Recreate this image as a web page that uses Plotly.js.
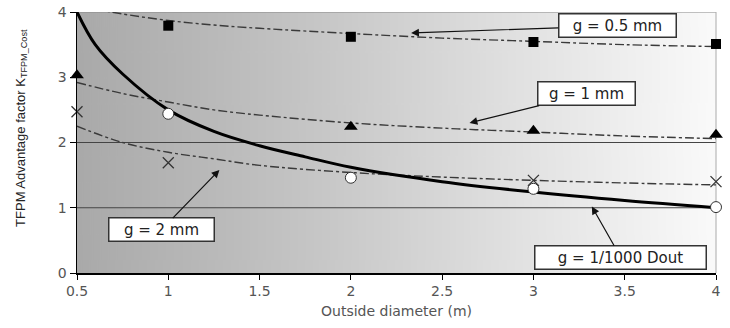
<!DOCTYPE html>
<html>
<head>
<meta charset="utf-8">
<script src="https://cdn.plot.ly/plotly-3.0.1.min.js"></script>
<style>html,body{margin:0;padding:0;background:#fff;}#chart{width:730px;height:328px;}</style>
</head>
<body>
<div id="chart"></div>
<script>
// Marker data
const xSq = [1, 2, 3, 4];
const ySq = [3.79, 3.62, 3.54, 3.51];
const xTri = [0.5, 2, 3, 4];
const yTri = [3.03, 2.24, 2.18, 2.12];
const xX = [0.5, 1, 3, 4];
const yX = [2.47, 1.69, 1.42, 1.40];
const xCirc = [1, 2, 3, 4];
const yCirc = [2.44, 1.46, 1.29, 1.01];

// Trend lines
const xTrend = [0.5, 0.75, 1, 1.25, 1.5, 2, 2.5, 3, 3.5, 4];
const yTrend05 = [4.1, 3.97, 3.87, 3.8, 3.75, 3.67, 3.6, 3.55, 3.5, 3.47];
const yTrend1 = [2.92, 2.75, 2.62, 2.5, 2.42, 2.3, 2.22, 2.16, 2.1, 2.06];
const yTrend2 = [2.25, 2.0, 1.85, 1.75, 1.65, 1.54, 1.47, 1.42, 1.38, 1.35];
const xCurve = [0.5, 0.6, 0.75, 1, 1.25, 1.5, 1.75, 2, 2.5, 3, 3.5, 4];
const yCurve = [4.0, 3.5, 3.05, 2.5, 2.17, 1.95, 1.78, 1.62, 1.4, 1.24, 1.11, 1.0];

const xTicks = [0.5, 1, 1.5, 2, 2.5, 3, 3.5, 4];
const xTickText = ['0.5', '1', '1.5', '2', '2.5', '3', '3.5', '4'];
const yTicks = [0, 1, 2, 3, 4];
const yTickText = ['0', '1', '2', '3', '4'];
const gridY = [1, 2];

// gradient background image
const cv = document.createElement('canvas');
cv.width = 640; cv.height = 10;
const ctx = cv.getContext('2d');
const grd = ctx.createLinearGradient(0, 0, 640, 0);
grd.addColorStop(0, '#a9a9a9');
grd.addColorStop(0.35, '#c4c4c4');
grd.addColorStop(0.7, '#e2e2e2');
grd.addColorStop(1, '#fafafa');
ctx.fillStyle = grd;
ctx.fillRect(0, 0, 640, 10);
const bgURL = cv.toDataURL('image/png');

const trendStyle = {color: '#3a3a3a', width: 1.4, dash: 'dashdot'};
const traces = [
  {x: xTrend, y: yTrend05, mode: 'lines', line: Object.assign({shape: 'spline'}, trendStyle), hoverinfo: 'skip'},
  {x: xTrend, y: yTrend1, mode: 'lines', line: Object.assign({shape: 'spline'}, trendStyle), hoverinfo: 'skip'},
  {x: xTrend, y: yTrend2, mode: 'lines', line: Object.assign({shape: 'spline'}, trendStyle), hoverinfo: 'skip'},
  {x: xSq, y: ySq, mode: 'markers', cliponaxis: false, marker: {symbol: 'square', size: 10, color: '#000'}},
  {x: xTri, y: yTri, mode: 'markers', cliponaxis: false, marker: {symbol: 'triangle-up', size: 12, color: '#000'}},
  {x: xX, y: yX, mode: 'markers', cliponaxis: false, marker: {symbol: 'x-thin', size: 11, line: {color: '#333', width: 1.3}}},
  {x: xCurve, y: yCurve, mode: 'lines', line: {color: '#000', width: 3, shape: 'spline'}},
  {x: xCirc, y: yCirc, mode: 'markers', cliponaxis: false, marker: {symbol: 'circle', size: 11, color: '#fff', line: {color: '#333', width: 1}}}
];

const shapes = gridY.map(v => ({type: 'line', xref: 'paper', x0: 0, x1: 1, yref: 'y', y0: v, y1: v, line: {color: '#444', width: 1.2}, layer: 'below'}));
shapes.push({type: 'line', xref: 'paper', x0: 0, x1: 1, yref: 'y', y0: 4, y1: 4, line: {color: '#888', width: 1.2}, layer: 'below'});
shapes.push({type: 'line', xref: 'paper', x0: 1, x1: 1, yref: 'paper', y0: 0, y1: 1, line: {color: '#aaa', width: 1}, layer: 'below'});

const boxFont = {family: 'DejaVu Sans, sans-serif', size: 15, color: '#222'};
const boxStyle = {showarrow: true, arrowhead: 2, arrowsize: 1.3, arrowwidth: 1.2, arrowcolor: '#111', bgcolor: '#fff', bordercolor: '#333', borderwidth: 1.5, borderpad: 2, font: boxFont};

const annotations = [
  Object.assign({x: 2.33, y: 3.68, ax: 206, ay: -7, text: 'g = 0.5 mm', width: 112}, boxStyle),
  Object.assign({x: 2.65, y: 2.30, ax: 117, ay: -29, text: 'g = 1 mm', width: 92}, boxStyle),
  Object.assign({x: 1.28, y: 1.58, ax: -58, ay: 60, text: 'g = 2 mm', width: 100}, boxStyle),
  Object.assign({x: 3.32, y: 1.02, ax: 29, ay: 51, text: 'g = 1/1000 Dout', width: 166}, boxStyle),
  {xref: 'paper', yref: 'paper', x: -0.088, y: 0.555, xanchor: 'center', yanchor: 'middle', textangle: -90, showarrow: false,
   text: 'TFPM Advantage factor K<sub>TFPM_Cost</sub>', font: {family: 'Liberation Sans, Arial, sans-serif', size: 13, color: '#222'}}
];

const layout = {
  width: 730, height: 328,
  margin: {l: 77, r: 14, t: 12, b: 55},
  paper_bgcolor: '#fff',
  plot_bgcolor: 'rgba(0,0,0,0)',
  showlegend: false,
  images: [{source: bgURL, xref: 'paper', yref: 'paper', x: 0, y: 1, sizex: 1, sizey: 1, sizing: 'stretch', layer: 'below', xanchor: 'left', yanchor: 'top'}],
  xaxis: {
    range: [0.5, 4], tickvals: xTicks, ticktext: xTickText, showgrid: false, zeroline: false,
    showline: true, linecolor: '#000', linewidth: 1.5, ticks: 'outside', ticklen: 5, tickcolor: '#000',
    tickfont: {family: 'DejaVu Sans, sans-serif', size: 14, color: '#555'},
    title: {text: 'Outside diameter (m)', font: {family: 'DejaVu Sans, sans-serif', size: 14, color: '#555'}, standoff: 8}
  },
  yaxis: {
    range: [0, 4], tickvals: yTicks, ticktext: yTickText, showgrid: false, zeroline: false,
    showline: true, linecolor: '#000', linewidth: 1.5, ticks: 'outside', ticklen: 6, tickcolor: '#000',
    tickfont: {family: 'DejaVu Sans, sans-serif', size: 14, color: '#555'}
  },
  shapes: shapes,
  annotations: annotations
};

Plotly.newPlot('chart', traces, layout, {displayModeBar: false, staticPlot: true});
</script>
</body>
</html>
